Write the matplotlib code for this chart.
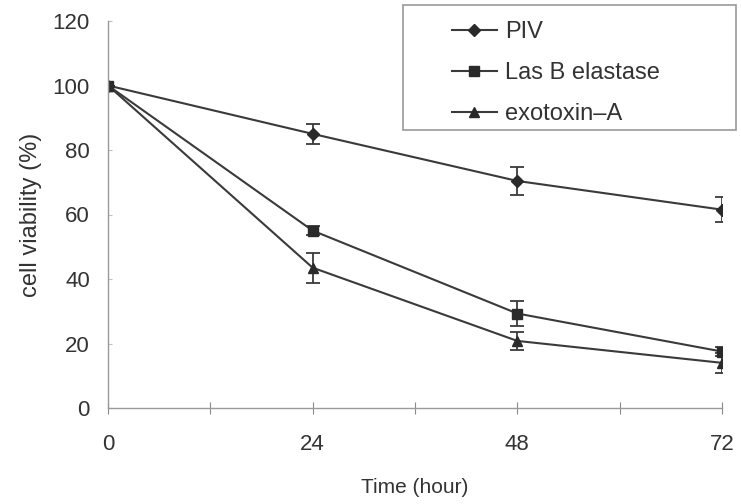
import matplotlib.pyplot as plt
from matplotlib.lines import Line2D
from matplotlib.patches import Rectangle

plt.rcParams['font.family'] = ['Liberation Sans', 'DejaVu Sans']

# values
hours = [0, 24, 48, 72]
piv = [100, 85, 70.4, 61.5]
piv_err = [0, 3, 4.2, 3.8]
lasb = [100, 55, 29.3, 17.5]
lasb_err = [0, 1.5, 4, 1.5]
exotoxin = [100, 43.5, 20.8, 14]
exotoxin_err = [0, 4.6, 2.7, 3]

labels = ['PIV', 'Las B elastase', 'exotoxin\u2013A']

fig = plt.figure(figsize=(7.41, 5.04), dpi=100)
ax = fig.add_axes([108/741, 1 - 408/504, (722 - 108)/741, (408 - 21)/504])

line_col = '#3a3a3a'
mark_col = '#2a2a2a'
series = [(piv, piv_err, 'D', 6), (lasb, lasb_err, 's', 7), (exotoxin, exotoxin_err, '^', 7)]
handles = []
for (vals, err, mk, ms), lab in zip(series, labels):
    ax.errorbar(hours, vals, yerr=err, color=line_col, marker=mk, markersize=ms,
                markerfacecolor=mark_col, markeredgecolor=mark_col, linewidth=1.5,
                elinewidth=1.3, capsize=5, capthick=1.3)
    handles.append(Line2D([], [], color=line_col, marker=mk, markersize=ms,
                          markerfacecolor=mark_col, markeredgecolor=mark_col,
                          linewidth=1.5))

ax.set_xlim(0, 72)
ax.set_ylim(0, 120)
ax.set_xticks(range(0, 73, 12))
ax.set_xticklabels(['0', '', '24', '', '48', '', '72'])
ax.set_yticks(range(0, 121, 20))

for s in ['top', 'right']:
    ax.spines[s].set_visible(False)
for s in ['left', 'bottom']:
    ax.spines[s].set_color('#9a9a9a')
    ax.spines[s].set_linewidth(1.0)

ax.tick_params(axis='x', direction='inout', length=8, color='#8a8a8a', pad=15,
               labelsize=16, labelcolor='#333333')
ax.tick_params(axis='y', direction='in', length=3, color='#c0c0c0', pad=13,
               labelsize=16, labelcolor='#333333')

ax.set_xlabel('Time (hour)', fontsize=15, color='#333333', labelpad=16)
ax.set_ylabel('cell viability (%)', fontsize=17, color='#333333', labelpad=8)

# legend box drawn separately so it can sit past the axes edge
fig.patches.append(Rectangle((403/741, 1 - 130/504), 333/741, 125/504,
                             transform=fig.transFigure, fill=False,
                             edgecolor='#9a9a9a', linewidth=1.2))
leg = fig.legend(handles, labels, loc='upper left', bbox_to_anchor=(452/741, 1 - 21/504),
                 frameon=False, fontsize=17, handlelength=1.9, handletextpad=0.35,
                 labelspacing=0.8, borderaxespad=0, borderpad=0)
for t in leg.get_texts():
    t.set_color('#333333')

plt.savefig('out.png', dpi=100)
